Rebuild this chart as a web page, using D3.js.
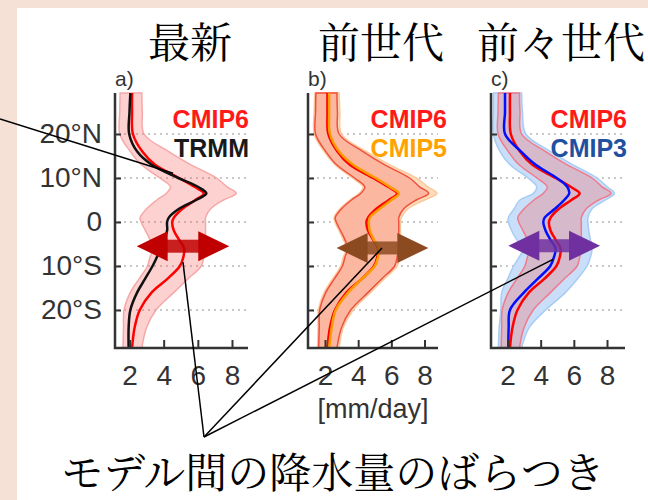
<!DOCTYPE html>
<html>
<head>
<meta charset="utf-8">
<script src="https://cdn.jsdelivr.net/npm/d3@7"></script>
<style>
html, body { margin: 0; padding: 0; background: #fff; }
svg { display: block; }
</style>
</head>
<body>
<svg id="chart" width="648" height="500"></svg>
<script>
// latitude rows, degrees (positive = north)
var LAT = [29.3, 25, 20, 16, 13, 10, 8, 6.5, 5, 3, 1, 0, -2, -4, -6, -8, -10, -13, -16, -20, -24, -28.6];

// zonal mean precipitation, mm/day
var CMIP6_MEAN = [2.15, 2.15, 2.2, 2.75, 3.5, 4.9, 5.8, 6.35, 5.85, 5.1, 4.6, 4.5, 4.6, 4.9, 5.2, 5.15, 4.95, 4.2, 3.3, 2.6, 2.3, 2.15];
var CMIP6_LOW  = [1.45, 1.43, 1.43, 2.05, 2.7, 3.78, 4.4, 4.15, 3.6, 3.0, 2.62, 2.68, 2.94, 3.2, 3.38, 3.2, 3.05, 2.55, 2.05, 1.68, 1.65, 1.62];
var CMIP6_HIGH = [2.72, 2.75, 2.85, 4.3, 5.6, 7.1, 7.7, 8.25, 7.5, 6.75, 6.45, 6.45, 6.45, 6.45, 6.45, 6.35, 6.2, 5.4, 4.6, 3.55, 3.0, 2.72];

var TRMM = [2.05, 2.0, 1.98, 2.45, 3.3, 4.85, 6.0, 6.5, 5.9, 4.9, 4.3, 4.2, 4.2, 4.0, 3.8, 3.6, 3.35, 2.9, 2.45, 2.05, 1.95, 1.95];

var CMIP5_MEAN = [2.25, 2.25, 2.3, 2.85, 3.7, 5.05, 5.9, 6.45, 6.0, 5.3, 4.7, 4.65, 4.7, 4.95, 5.25, 5.2, 5.0, 4.2, 3.4, 2.65, 2.4, 2.25];
var CMIP5_LOW  = [1.38, 1.35, 1.35, 1.95, 2.6, 3.65, 4.3, 4.05, 3.5, 2.9, 2.55, 2.6, 2.85, 3.1, 3.3, 3.1, 2.95, 2.45, 1.95, 1.6, 1.58, 1.55];
var CMIP5_HIGH = [2.85, 2.9, 3.0, 4.5, 5.9, 7.5, 8.2, 8.75, 8.0, 7.0, 6.6, 6.55, 6.55, 6.55, 6.55, 6.5, 6.35, 5.55, 4.75, 3.7, 3.1, 2.85];

var CMIP3_MEAN = [1.85, 1.85, 1.85, 2.82, 3.7, 4.97, 5.6, 5.72, 5.42, 4.86, 4.24, 4.16, 4.3, 4.58, 4.9, 4.8, 4.58, 3.8, 3.0, 2.15, 2.07, 2.05];
var CMIP3_LOW  = [1.15, 1.15, 1.15, 1.55, 2.15, 3.24, 3.76, 3.56, 2.75, 2.4, 2.05, 2.05, 2.25, 2.55, 2.95, 2.7, 2.37, 2.0, 1.65, 1.6, 1.5, 1.45];
var CMIP3_HIGH = [2.85, 2.9, 3.1, 4.6, 5.95, 7.4, 8.0, 8.45, 7.9, 7.1, 6.85, 6.85, 6.9, 7.0, 7.1, 7.0, 6.8, 6.2, 5.5, 4.3, 3.3, 2.85];

var GRID_LAT = [20, 10, 0, -10, -20];
var X_TICKS = [2, 4, 6, 8];
var LAT_LABELS = ['20°N', '10°N', '0', '10°S', '20°S'];

var TITLES = ['最新', '前世代', '前々世代'];
var PANEL_LABELS = ['a)', 'b)', 'c)'];
var LEGEND_OTHER = ['TRMM', 'CMIP5', 'CMIP3'];

// spread arrows: latitude, from, to (mm/day)
var ARROW_LAT  = [-5.5, -5.9, -5.4];
var ARROW_FROM = [2.42, 2.7, 2.05];
var ARROW_TO   = [7.84, 8.23, 7.58];

// pointer lines end on these (value, lat) in panels a, b, c
var POINTER_END = [[5.13, -9.1], [5.44, -5.9], [4.74, -8.5]];
var TOP_POINTER_END = [4.55, 11.1];

var svg = d3.select('#chart');
svg.append('rect').attr('width', 648).attr('height', 500).attr('fill', '#f5e1d6');
svg.append('rect').attr('x', 17).attr('y', 8).attr('width', 631).attr('height', 492).attr('fill', '#fff');

var yTop = 93, yBottom = 348;
var y = d3.scaleLinear().domain([20, -20]).range([134, 310]);

var panels = [
    { left: 115, right: 248, px: [129.5, 232], titleX: 190, legendX: 249,
      other: TRMM, otherLow: null, otherHigh: null, otherColor: '#111', legendColor: '#1a1a1a',
      bandFill: null, bandStroke: null, c6Stroke: '#f6a8a8', arrow: '#c00000' },
    { left: 308, right: 438, px: [325, 424.5], titleX: 381, legendX: 447,
      other: CMIP5_MEAN, otherLow: CMIP5_LOW, otherHigh: CMIP5_HIGH, otherColor: '#ff9a00', legendColor: '#ffa200',
      bandFill: '#fddcbc', bandStroke: '#fbc999', c6Stroke: '#f0503f', arrow: '#8c4a20' },
    { left: 491, right: 625, px: [507.5, 607], titleX: 561, legendX: 627,
      other: CMIP3_MEAN, otherLow: CMIP3_LOW, otherHigh: CMIP3_HIGH, otherColor: '#0010ff', legendColor: '#2150a0',
      bandFill: '#c9def8', bandStroke: '#a7ccf3', c6Stroke: '#f07a8c', arrow: '#7030a0' }
];

var sansFont = '"Liberation Sans", Arial, Helvetica, sans-serif';
var cjkFont = '"Noto Serif CJK JP", "Noto Sans CJK JP", serif';

var idx = d3.range(LAT.length);

panels.forEach(function(p, i) {
    var x = d3.scaleLinear().domain([2, 8]).range(p.px);
    var g = svg.append('g');

    // dotted latitude grid
    g.selectAll('line.grid').data(GRID_LAT).enter().append('line')
        .attr('x1', p.left + 3).attr('x2', p.right)
        .attr('y1', function(d) { return y(d); }).attr('y2', function(d) { return y(d); })
        .attr('stroke', '#c8c8c8').attr('stroke-width', 2).attr('stroke-dasharray', '2,4');

    var curve = d3.curveCatmullRom.alpha(0.5);
    function band(lo, hi) {
        return d3.area().curve(curve)
            .y(function(k) { return y(LAT[k]); })
            .x0(function(k) { return x(lo[k]); })
            .x1(function(k) { return x(hi[k]); })(idx);
    }
    function line(v) {
        return d3.line().curve(curve)
            .x(function(k) { return x(v[k]); })
            .y(function(k) { return y(LAT[k]); })(idx);
    }

    if (p.otherLow) {
        g.append('path').attr('d', band(p.otherLow, p.otherHigh))
            .attr('fill', p.bandFill).attr('stroke', p.bandStroke).attr('stroke-width', 1.5);
    }
    g.append('path').attr('d', band(CMIP6_LOW, CMIP6_HIGH))
        .attr('fill', 'rgba(250,90,90,0.28)').attr('stroke', p.c6Stroke).attr('stroke-width', 1.5);

    g.append('path').attr('d', line(CMIP6_MEAN))
        .attr('fill', 'none').attr('stroke', '#ff0000').attr('stroke-width', 2.5);
    g.append('path').attr('d', line(p.other))
        .attr('fill', 'none').attr('stroke', p.otherColor).attr('stroke-width', 2.5);

    // double-headed spread arrow
    var ax0 = x(ARROW_FROM[i]), ax1 = x(ARROW_TO[i]), ay = y(ARROW_LAT[i]);
    var hl = 31, hh = 15, sh = 6.5;
    g.append('path')
        .attr('d', d3.line()([[ax0, ay], [ax0 + hl, ay - hh], [ax0 + hl, ay + hh]]) + 'Z' +
                   d3.line()([[ax1, ay], [ax1 - hl, ay - hh], [ax1 - hl, ay + hh]]) + 'Z')
        .attr('fill', p.arrow);
    g.append('rect').attr('x', ax0 + hl - 1).attr('y', ay - sh)
        .attr('width', ax1 - ax0 - 2 * hl + 2).attr('height', 2 * sh)
        .attr('fill', p.arrow).attr('opacity', 0.85);

    // axes
    var xa = g.append('g').attr('transform', 'translate(0,' + yBottom + ')')
        .call(d3.axisBottom(x).tickValues(X_TICKS).tickFormat(d3.format('d'))
            .tickSizeInner(-8).tickSizeOuter(0).tickPadding(17));
    xa.select('.domain').remove();
    xa.selectAll('line').attr('stroke', '#333').attr('stroke-width', 2);
    xa.selectAll('text').attr('font-family', sansFont).attr('font-size', 28).attr('fill', '#333');

    var ya = g.append('g').attr('transform', 'translate(' + p.left + ',0)')
        .call(d3.axisLeft(y).tickValues(GRID_LAT).tickSizeInner(-6).tickSizeOuter(0).tickPadding(13)
            .tickFormat(function(d, k) { return i === 0 ? LAT_LABELS[k] : ''; }));
    ya.select('.domain').remove();
    ya.selectAll('line').attr('stroke', '#333').attr('stroke-width', 2);
    ya.selectAll('text').attr('font-family', sansFont).attr('font-size', 28).attr('fill', '#333');

    g.append('path')
        .attr('d', d3.line()([[p.left, yTop], [p.left, yBottom], [p.right, yBottom]]))
        .attr('fill', 'none').attr('stroke', '#333').attr('stroke-width', 2.5);

    // legend
    g.append('text').attr('x', p.legendX).attr('y', 128).attr('text-anchor', 'end')
        .attr('font-family', sansFont).attr('font-weight', 'bold').attr('font-size', 25)
        .attr('fill', '#ff1a1a').text('CMIP6');
    g.append('text').attr('x', p.legendX).attr('y', 157).attr('text-anchor', 'end')
        .attr('font-family', sansFont).attr('font-weight', 'bold').attr('font-size', 25)
        .attr('fill', p.legendColor).text(LEGEND_OTHER[i]);

    g.append('text').attr('x', p.left).attr('y', 86)
        .attr('font-family', sansFont).attr('font-size', 21).attr('fill', '#333')
        .text(PANEL_LABELS[i]);

    svg.append('text').attr('x', p.titleX).attr('y', 58).attr('text-anchor', 'middle')
        .attr('font-family', cjkFont).attr('font-size', 42).attr('fill', '#000')
        .text(TITLES[i]);

    p.x = x;
});

svg.append('text').attr('x', 373).attr('y', 418).attr('text-anchor', 'middle')
    .attr('font-family', sansFont).attr('font-size', 27).attr('fill', '#333')
    .text('[mm/day]');

// pointer lines
var hub = [204, 437];
var ann = svg.append('g').attr('stroke', '#000').attr('stroke-width', 1.5).attr('fill', 'none');
POINTER_END.forEach(function(e, i) {
    var p = panels[i];
    ann.append('line').attr('x1', hub[0]).attr('y1', hub[1])
        .attr('x2', p.x(e[0])).attr('y2', y(e[1]));
});
ann.append('line').attr('x1', 0).attr('y1', 119)
    .attr('x2', panels[0].x(TOP_POINTER_END[0])).attr('y2', y(TOP_POINTER_END[1]));

svg.append('text').attr('x', 333).attr('y', 488).attr('text-anchor', 'middle')
    .attr('font-family', cjkFont).attr('font-size', 42).attr('fill', '#000')
    .text('モデル間の降水量のばらつき');
</script>
</body>
</html>
